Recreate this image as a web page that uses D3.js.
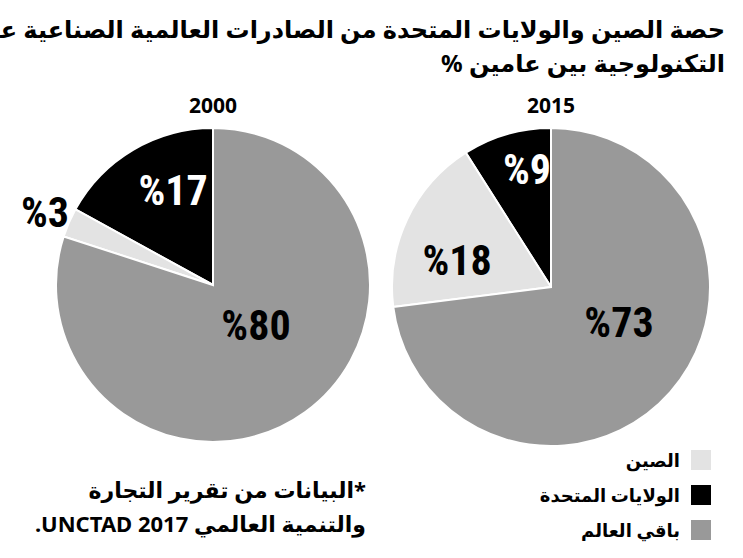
<!DOCTYPE html>
<html lang="ar">
<head>
<meta charset="UTF-8">
<script src="https://cdn.jsdelivr.net/npm/d3@7"></script>
<style>
  body{margin:0;background:#fff;}
  text{font-family:"Noto Sans","DejaVu Sans",sans-serif;}
  .num{font-family:"Liberation Sans Narrow","Roboto","DejaVu Sans Condensed",sans-serif;font-stretch:condensed;font-weight:bold;}
</style>
</head>
<body>
<svg id="chart" width="743" height="558"></svg>
<script>
// categories, in drawing order (counterclockwise from 12 o'clock)
const categories = ["الولايات المتحدة", "الصين", "باقي العالم"];
const colors = ["#000000", "#e3e3e3", "#999999"];
const years = ["2000", "2015"];
const values2000 = [17, 3, 80];
const values2015 = [9, 18, 73];
const legendOrder = [1, 0, 2];

const svg = d3.select("#chart");

// rtl text: anchor "start" puts the right edge at x
function rtlText(x, y, size, str) {
  return svg.append("text").attr("x", x).attr("y", y).attr("text-anchor", "start")
    .attr("direction", "rtl").attr("font-size", size).attr("font-weight", "bold")
    .text(str);
}

// title
rtlText(725, 38, 24, "حصة الصين والولايات المتحدة من الصادرات العالمية الصناعية عالية");
rtlText(725, 72, 24, "التكنولوجية بين عامين %");

const pie = d3.pie().sort(null).startAngle(0).endAngle(-2 * Math.PI);

function drawPie(vals, cx, cy, r, year, labelPos) {
  const g = svg.append("g").attr("transform", `translate(${cx},${cy})`);
  const arc = d3.arc().innerRadius(0).outerRadius(r);
  g.selectAll("path").data(pie(vals)).join("path")
    .attr("d", arc).attr("fill", (d, i) => colors[i])
    .attr("stroke", "#fff").attr("stroke-width", 2);
  svg.append("text").attr("x", cx).attr("y", 113).attr("text-anchor", "middle")
    .attr("font-size", 21).attr("font-weight", "bold").text(year);
  vals.forEach((v, i) => {
    g.append("text").attr("class", "num")
      .attr("x", labelPos[i][0]).attr("y", labelPos[i][1])
      .attr("text-anchor", "middle").attr("font-size", 42)
      .attr("fill", i === 0 ? "#fff" : "#000")
      .text("%" + v);
  });
}

drawPie(values2000, 213, 285, 157, years[0], [[-40, -80], [-168, -58], [43, 55]]);
drawPie(values2015, 551, 287, 159, years[1], [[-24, -103], [-94, -12], [68, 50]]);

// legend
const rowY = [460, 495, 530];
legendOrder.forEach((ci, k) => {
  svg.append("rect").attr("x", 691).attr("y", rowY[k] - 10).attr("width", 20).attr("height", 20)
    .attr("fill", colors[ci]);
  rtlText(680, rowY[k] + 7, 18, categories[ci]);
});

// source note
rtlText(366, 498, 22, "*البيانات من تقرير التجارة");
rtlText(366, 532, 22, "والتنمية العالمي 2017 UNCTAD.");
</script>
</body>
</html>
